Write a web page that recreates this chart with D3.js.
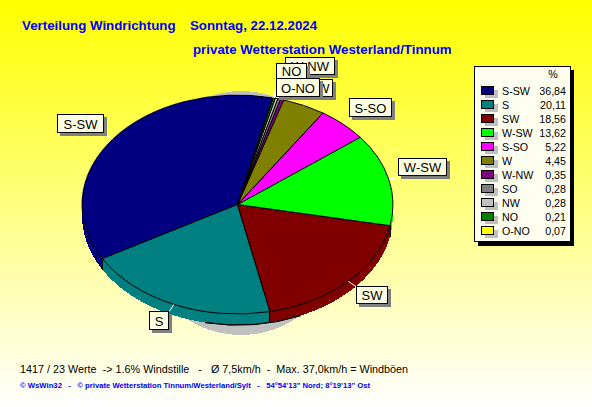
<!DOCTYPE html>
<html><head><meta charset="utf-8">
<script src="https://cdn.jsdelivr.net/npm/d3@7/dist/d3.min.js"></script>
<style>html,body{margin:0;padding:0;background:#fff}svg{display:block}text{font-family:"Liberation Sans",Arial,sans-serif}</style>
</head><body><svg id="c" width="592" height="407"></svg>
<script>
const categories=["S-SW","S","SW","W-SW","S-SO","W","W-NW","SO","NW","NO","O-NO"];
const values=[36.84,20.11,18.56,13.62,5.22,4.45,0.35,0.28,0.28,0.21,0.07];
const valueLabels=["36,84","20,11","18,56","13,62","5,22","4,45","0,35","0,28","0,28","0,21","0,07"];
const colors=["#000080","#008080","#800000","#00ff00","#ff00ff","#808000","#800080","#808080","#c0c0c0","#008000","#ffff00"];
const titleLine1="Verteilung Windrichtung";
const titleDate="Sonntag, 22.12.2024";
const titleLine2="private Wetterstation Westerland/Tinnum";
const footer1="1417 / 23 Werte  -> 1.6% Windstille   -   Ø 7,5km/h  -  Max. 37,0km/h = Windböen";
const footer2="© WsWin32   -   © private Wetterstation Tinnum/Westerland/Sylt   -   54°54'13\" Nord; 8°19'13\" Ost";
const calloutNames=["W-NW","W","S-SO","W-SW","SW","S","S-SW","NO","O-NO"];

const layout={"W-NW":[285,57,50,18],"W":[314,79,19,18],"S-SO":[349,98,43,19],"W-SW":[398,158,49,18],
 "SW":[356,286,32,18],"S":[149,311,20,19],"S-SW":[57,114,47,19],"NO":[276,63,31,16],"O-NO":[276,78,44,19]};

const svg=d3.select("#c");
const defs=svg.append("defs");
const g=defs.append("linearGradient").attr("id","bg").attr("x1",0).attr("x2",0).attr("y1",0).attr("y2",1);
g.append("stop").attr("offset",0).attr("stop-color","#ffff00");
g.append("stop").attr("offset",1).attr("stop-color","#ffffff");
svg.append("rect").attr("width",592).attr("height",407).attr("fill","url(#bg)");

const cx=237.5,cy=204.5,rx=155.5,ry=109.5,depth=11;
const start=13*Math.PI/180;
const pie=d3.pie().sort(null).value(d=>d).startAngle(start).endAngle(start-2*Math.PI);
const arcs=pie(values);
const arc=d3.arc().innerRadius(0).outerRadius(1);

// shadow
svg.append("ellipse").attr("cx",241).attr("cy",213).attr("rx",110).attr("ry",122).attr("fill","#c0c0c0").attr("shape-rendering","crispEdges");
// side
for(let k=depth;k>=1;k--){
 svg.append("g").selectAll("path").data(arcs).join("path")
 .attr("transform",`translate(${cx},${cy+k}) scale(${rx},${ry})`)
 .attr("d",arc).attr("fill",(d,i)=>colors[i]).attr("shape-rendering","crispEdges");
}
// lower rim outline at the front of the pie
svg.append("path").attr("transform",`translate(${cx},${cy+depth}) scale(${rx},${ry})`)
 .attr("d",d3.arc().innerRadius(1).outerRadius(1).startAngle(156*Math.PI/180).endAngle(192*Math.PI/180)())
 .attr("fill","none").attr("stroke","#000").attr("vector-effect","non-scaling-stroke").attr("shape-rendering","crispEdges");
// side seams between slices in the front half
svg.append("g").selectAll("line").data(arcs.filter(d=>Math.cos(d.endAngle)<-0.1)).join("line")
 .attr("x1",d=>cx+rx*Math.sin(d.endAngle)).attr("x2",d=>cx+rx*Math.sin(d.endAngle))
 .attr("y1",d=>cy-ry*Math.cos(d.endAngle)).attr("y2",d=>cy-ry*Math.cos(d.endAngle)+depth)
 .attr("stroke","#000").attr("shape-rendering","crispEdges");
// top
svg.append("g").selectAll("path").data(arcs).join("path")
 .attr("transform",`translate(${cx},${cy}) scale(${rx},${ry})`).attr("d",arc).attr("fill",(d,i)=>colors[i])
 .attr("stroke","#000").attr("stroke-width",1).attr("vector-effect","non-scaling-stroke")
 .attr("shape-rendering","crispEdges");

// leaders
const arcOf=n=>arcs[categories.indexOf(n)];
svg.append("g").selectAll("line").data(calloutNames.map(arcOf)).join("line")
 .each(function(d){
  const a=(d.startAngle+d.endAngle)/2;
  d3.select(this).attr("x1",cx+rx*Math.sin(a)).attr("y1",cy-ry*Math.cos(a))
   .attr("x2",cx+1.07*rx*Math.sin(a)).attr("y2",cy-1.07*ry*Math.cos(a));
 }).attr("stroke","#fff");

// labels
const lab=svg.append("g");
calloutNames.forEach(t=>{
 const [x,y,w,h]=layout[t];
 lab.append("rect").attr("x",x+3).attr("y",y+3).attr("width",w).attr("height",h).attr("fill","#808080").attr("shape-rendering","crispEdges");
 lab.append("rect").attr("x",x+.5).attr("y",y+.5).attr("width",w-1).attr("height",h-1).attr("fill","#ffffe1").attr("stroke","#000").attr("shape-rendering","crispEdges");
 lab.append("text").attr("x",x+w/2).attr("y",y+h/2+5).attr("text-anchor","middle").attr("font-size",13).attr("fill","#000").text(t);
});

// legend
const lx=474,ly=66,lw=97,lh=176;
svg.append("rect").attr("x",lx+4).attr("y",ly+4).attr("width",lw-1).attr("height",lh).attr("fill","#000");
svg.append("rect").attr("x",lx+.5).attr("y",ly+.5).attr("width",lw-1).attr("height",lh-1).attr("fill","#fffff0").attr("stroke","#000").attr("shape-rendering","crispEdges");
svg.append("text").attr("x",553).attr("y",78).attr("text-anchor","middle").attr("font-size",10.7).text("%");
const rowY=d3.scaleLinear().domain([0,10]).range([91,231]);
categories.forEach((c,i)=>{
 const y=rowY(i);
 svg.append("rect").attr("x",485).attr("y",y-1).attr("width",13).attr("height",8).attr("fill","#c0c0c0").attr("shape-rendering","crispEdges");
 svg.append("rect").attr("x",481.5).attr("y",y-4.5).attr("width",12).attr("height",8).attr("fill",colors[i]).attr("stroke","#000").attr("shape-rendering","crispEdges");
 svg.append("text").attr("x",502).attr("y",y+4).attr("font-size",10.7).text(c);
 svg.append("text").attr("x",566).attr("y",y+4).attr("text-anchor","end").attr("font-size",10.7).text(valueLabels[i]);
});

svg.append("text").attr("x",22).attr("y",30).attr("font-size",13.3).attr("font-weight","bold").attr("fill","#0000ff").text(titleLine1);
svg.append("text").attr("x",190).attr("y",30).attr("font-size",13.3).attr("font-weight","bold").attr("fill","#0000ff").text(titleDate);
svg.append("text").attr("x",193).attr("y",54).attr("font-size",13.3).attr("font-weight","bold").attr("fill","#0000ff").text(titleLine2);
svg.append("text").attr("x",20).attr("y",373).attr("font-size",10.8).attr("fill","#000").style("white-space","pre").text(footer1);
svg.append("text").attr("x",20).attr("y",388).attr("font-size",7.7).attr("font-weight","bold").attr("fill","#0000ff").style("white-space","pre").text(footer2);
</script></body></html>
